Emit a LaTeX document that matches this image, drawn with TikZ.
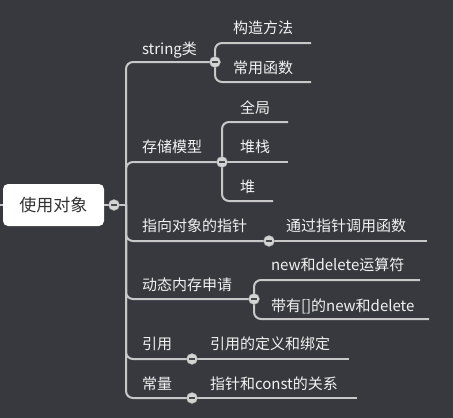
\documentclass[tikz,border=0pt]{standalone}
\usepackage{fontspec}
\setmainfont{Noto Sans CJK SC}
\definecolor{bgdark}{RGB}{55,57,62}
\definecolor{branchgray}{RGB}{200,200,200}
\definecolor{knobfill}{RGB}{212,212,212}
\definecolor{knobdash}{RGB}{72,74,78}
\definecolor{rootink}{RGB}{50,50,52}
\definecolor{leafink}{RGB}{242,242,242}

\begin{document}
\begin{tikzpicture}[x=1pt, y=-1pt, outer sep=0pt,
  branch/.style={draw=branchgray, line width=2pt, rounded corners=7pt},
  topic/.style={anchor=base west, inner sep=0pt, text=leafink, font=\fontsize{15}{18}\selectfont},
  knob/.style={circle, fill=knobfill, draw=knobfill!75!black, line width=0.4pt, minimum size=11pt, inner sep=0pt},
  rootbox/.style={fill=white, rounded corners=5pt, minimum width=101pt, minimum height=42pt, text=rootink, font=\fontsize{17}{20}\selectfont}]

\useasboundingbox (0, 0) rectangle (453, 418);
\fill [bgdark] (0, 0) rectangle (453, 418);

\node [rootbox] at (53.5, 205) (ROOT) {使用对象};

% knobs and ends of the lines
\coordinate (LEFT) at (0, 205);
\coordinate (K_ROOT) at (114, 205);
\coordinate (SPINE) at (126, 205);
\coordinate (K_STR) at (215, 62);
\coordinate (K_MEM) at (222, 162);
\coordinate (K_PTR) at (269, 241);
\coordinate (K_DYN) at (254, 299);
\coordinate (K_REF) at (192, 359);
\coordinate (K_CONST) at (192, 398);
\coordinate (E_CTOR) at (311, 43);
\coordinate (E_FUNC) at (311, 82);
\coordinate (E_GLOBAL) at (288, 122);
\coordinate (E_STACK) at (288, 162);
\coordinate (E_HEAP) at (273, 201);
\coordinate (E_CALL) at (427, 241);
\coordinate (E_NEWDEL) at (420, 280);
\coordinate (E_ARRAY) at (429, 319);
\coordinate (E_BIND) at (349, 359);
\coordinate (E_CONSTREL) at (357, 398);

\draw [branch] (LEFT) -- (ROOT.west);
\draw [branch] (ROOT.east) -- (SPINE);
\foreach \k in {K_STR, K_MEM, K_PTR, K_DYN, K_REF, K_CONST}
    \draw [branch] (SPINE) |- (\k);

\draw [branch] (K_STR) |- (E_CTOR);
\draw [branch] (K_STR) |- (E_FUNC);
\draw [branch] (K_MEM) |- (E_GLOBAL);
\draw [branch] (K_MEM) -- (E_STACK);
\draw [branch] (K_MEM) |- (E_HEAP);
\draw [branch] (K_PTR) -- (E_CALL);
\draw [branch] (K_DYN) |- (E_NEWDEL);
\draw [branch] (K_DYN) |- (E_ARRAY);
\draw [branch] (K_REF) -- (E_BIND);
\draw [branch] (K_CONST) -- (E_CONSTREL);

\foreach \k in {K_ROOT, K_STR, K_MEM, K_PTR, K_DYN, K_REF, K_CONST}
    \node [knob] at (\k) (\k-knob) {\color{knobdash}\rule{6pt}{1.8pt}};

% topics
\node [topic] at (142, 54) (T_STR) {string类};
\node [topic] at (142, 152) (T_MEM) {存储模型};
\node [topic] at (142, 231) (T_PTR) {指向对象的指针};
\node [topic] at (142, 290) (T_DYN) {动态内存申请};
\node [topic] at (142, 349) (T_REF) {引用};
\node [topic] at (142, 389) (T_CONST) {常量};

% subtopics
\node [topic] at (233, 33) (T_CTOR) {构造方法};
\node [topic] at (233, 73) (T_FUNC) {常用函数};
\node [topic] at (240, 113) (T_GLOBAL) {全局};
\node [topic] at (240, 152) (T_STACK) {堆栈};
\node [topic] at (240, 192) (T_HEAP) {堆};
\node [topic] at (286, 231) (T_CALL) {通过指针调用函数};
\node [topic] at (271, 270) (T_NEWDEL) {new和delete运算符};
\node [topic] at (271, 311) (T_ARRAY) {带有[]的new和delete};
\node [topic] at (210, 349) (T_BIND) {引用的定义和绑定};
\node [topic] at (210, 389) (T_CONSTREL) {指针和const的关系};
\end{tikzpicture}
\end{document}
